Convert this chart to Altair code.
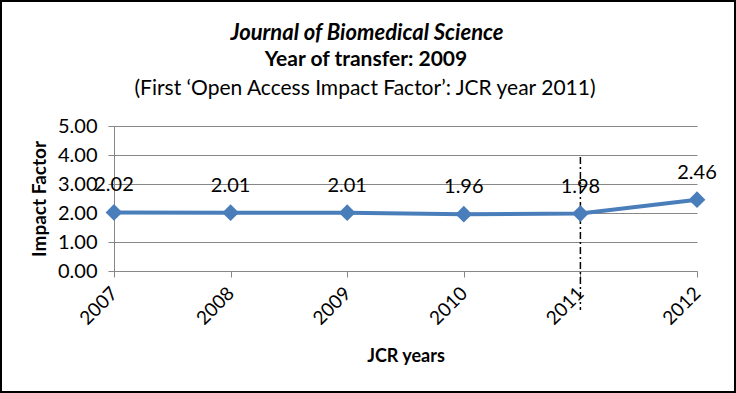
import altair as alt
import pandas as pd

years = [2007, 2008, 2009, 2010, 2011, 2012]
impact = [2.02, 2.01, 2.01, 1.96, 1.98, 2.46]
labels = ["2.02", "2.01", "2.01", "1.96", "1.98", "2.46"]
oa_year = [2011]
title_lines = ["Journal of Biomedical Science", "Year of transfer: 2009",
               "(First \u2018Open Access Impact Factor\u2019: JCR year 2011)"]

df = pd.DataFrame({"year": years, "impact": impact, "label": labels})
FONT = "Lato"
BLUE = "#4A7EBB"
GRID = "#878787"

x = alt.X("year:Q", scale=alt.Scale(domain=[2007, 2012], nice=False, zero=False),
          axis=alt.Axis(values=years, format="d", labelAngle=-45, labelAlign="right",
                        labelBaseline="middle", labelFontSize=19, labelPadding=13,
                        labelFont=FONT, labelColor="#000", grid=False, labelOverlap=False,
                        domainColor=GRID, tickColor=GRID, tickSize=6,
                        title="JCR years", titleFont=FONT, titleFontSize=18,
                        titleFontWeight="bold", titleColor="#000", titlePadding=19))
y = alt.Y("impact:Q", scale=alt.Scale(domain=[0, 5], nice=False, zero=True),
          axis=alt.Axis(tickCount=5, format=".2f", labelFontSize=20,
                        labelFont=FONT, labelColor="#000", labelPadding=11,
                        labelOverlap=False, labelFlush=False, labelBound=False,
                        grid=True, gridColor=GRID, gridWidth=1,
                        domainColor=GRID, tickColor=GRID, tickSize=6,
                        title="Impact Factor", titleFont=FONT, titleFontSize=19,
                        titleFontWeight="bold", titleColor="#000", titlePadding=8))

base = alt.Chart(df)
line = base.mark_line(color=BLUE, strokeWidth=4).encode(x=x, y=y)
pts = base.mark_point(shape="diamond", filled=True, size=280, color=BLUE, opacity=1).encode(x=x, y=y)
txt = base.mark_text(dy=-27, fontSize=20, font=FONT, color="#000").encode(x=x, y=y, text="label:N")

rule = alt.Chart(pd.DataFrame({"year": oa_year})).mark_rule(
    color="#000", strokeWidth=1.5, strokeDash=[7, 3, 2, 3]).encode(
    x=x, y=alt.value(31), y2=alt.value(184))

tdf = pd.DataFrame({"t": title_lines, "row": [0, 1, 2]})
t1 = alt.Chart(tdf[tdf.row == 0]).mark_text(fontSize=22, font=FONT, fontStyle="italic", fontWeight="bold",
                                             color="#000", baseline="middle").encode(
    text="t:N", x=alt.value(253), y=alt.value(-93))
t2 = alt.Chart(tdf[tdf.row == 1]).mark_text(fontSize=21, font=FONT, fontWeight="bold",
                                             color="#000", baseline="middle").encode(
    text="t:N", x=alt.value(252), y=alt.value(-66))
t3 = alt.Chart(tdf[tdf.row == 2]).mark_text(fontSize=21, font=FONT,
                                             color="#000", baseline="middle").encode(
    text="t:N", x=alt.value(251), y=alt.value(-37))

frame = alt.Chart(pd.DataFrame({"a": [0]})).mark_rect(fill=None, stroke="#000", strokeWidth=2).encode(
    x=alt.value(-113), x2=alt.value(621), y=alt.value(-125), y2=alt.value(266))

chart = alt.layer(line, rule, pts, txt, t1, t2, t3, frame).properties(
    width=583, height=145,
    autosize=alt.AutoSizeParams(type="none"),
    padding={"left": 114, "top": 126, "right": 39, "bottom": 122},
    background="white",
).configure_view(stroke=None)

chart.save("out.html", embed_options={"renderer": "svg", "actions": False})
